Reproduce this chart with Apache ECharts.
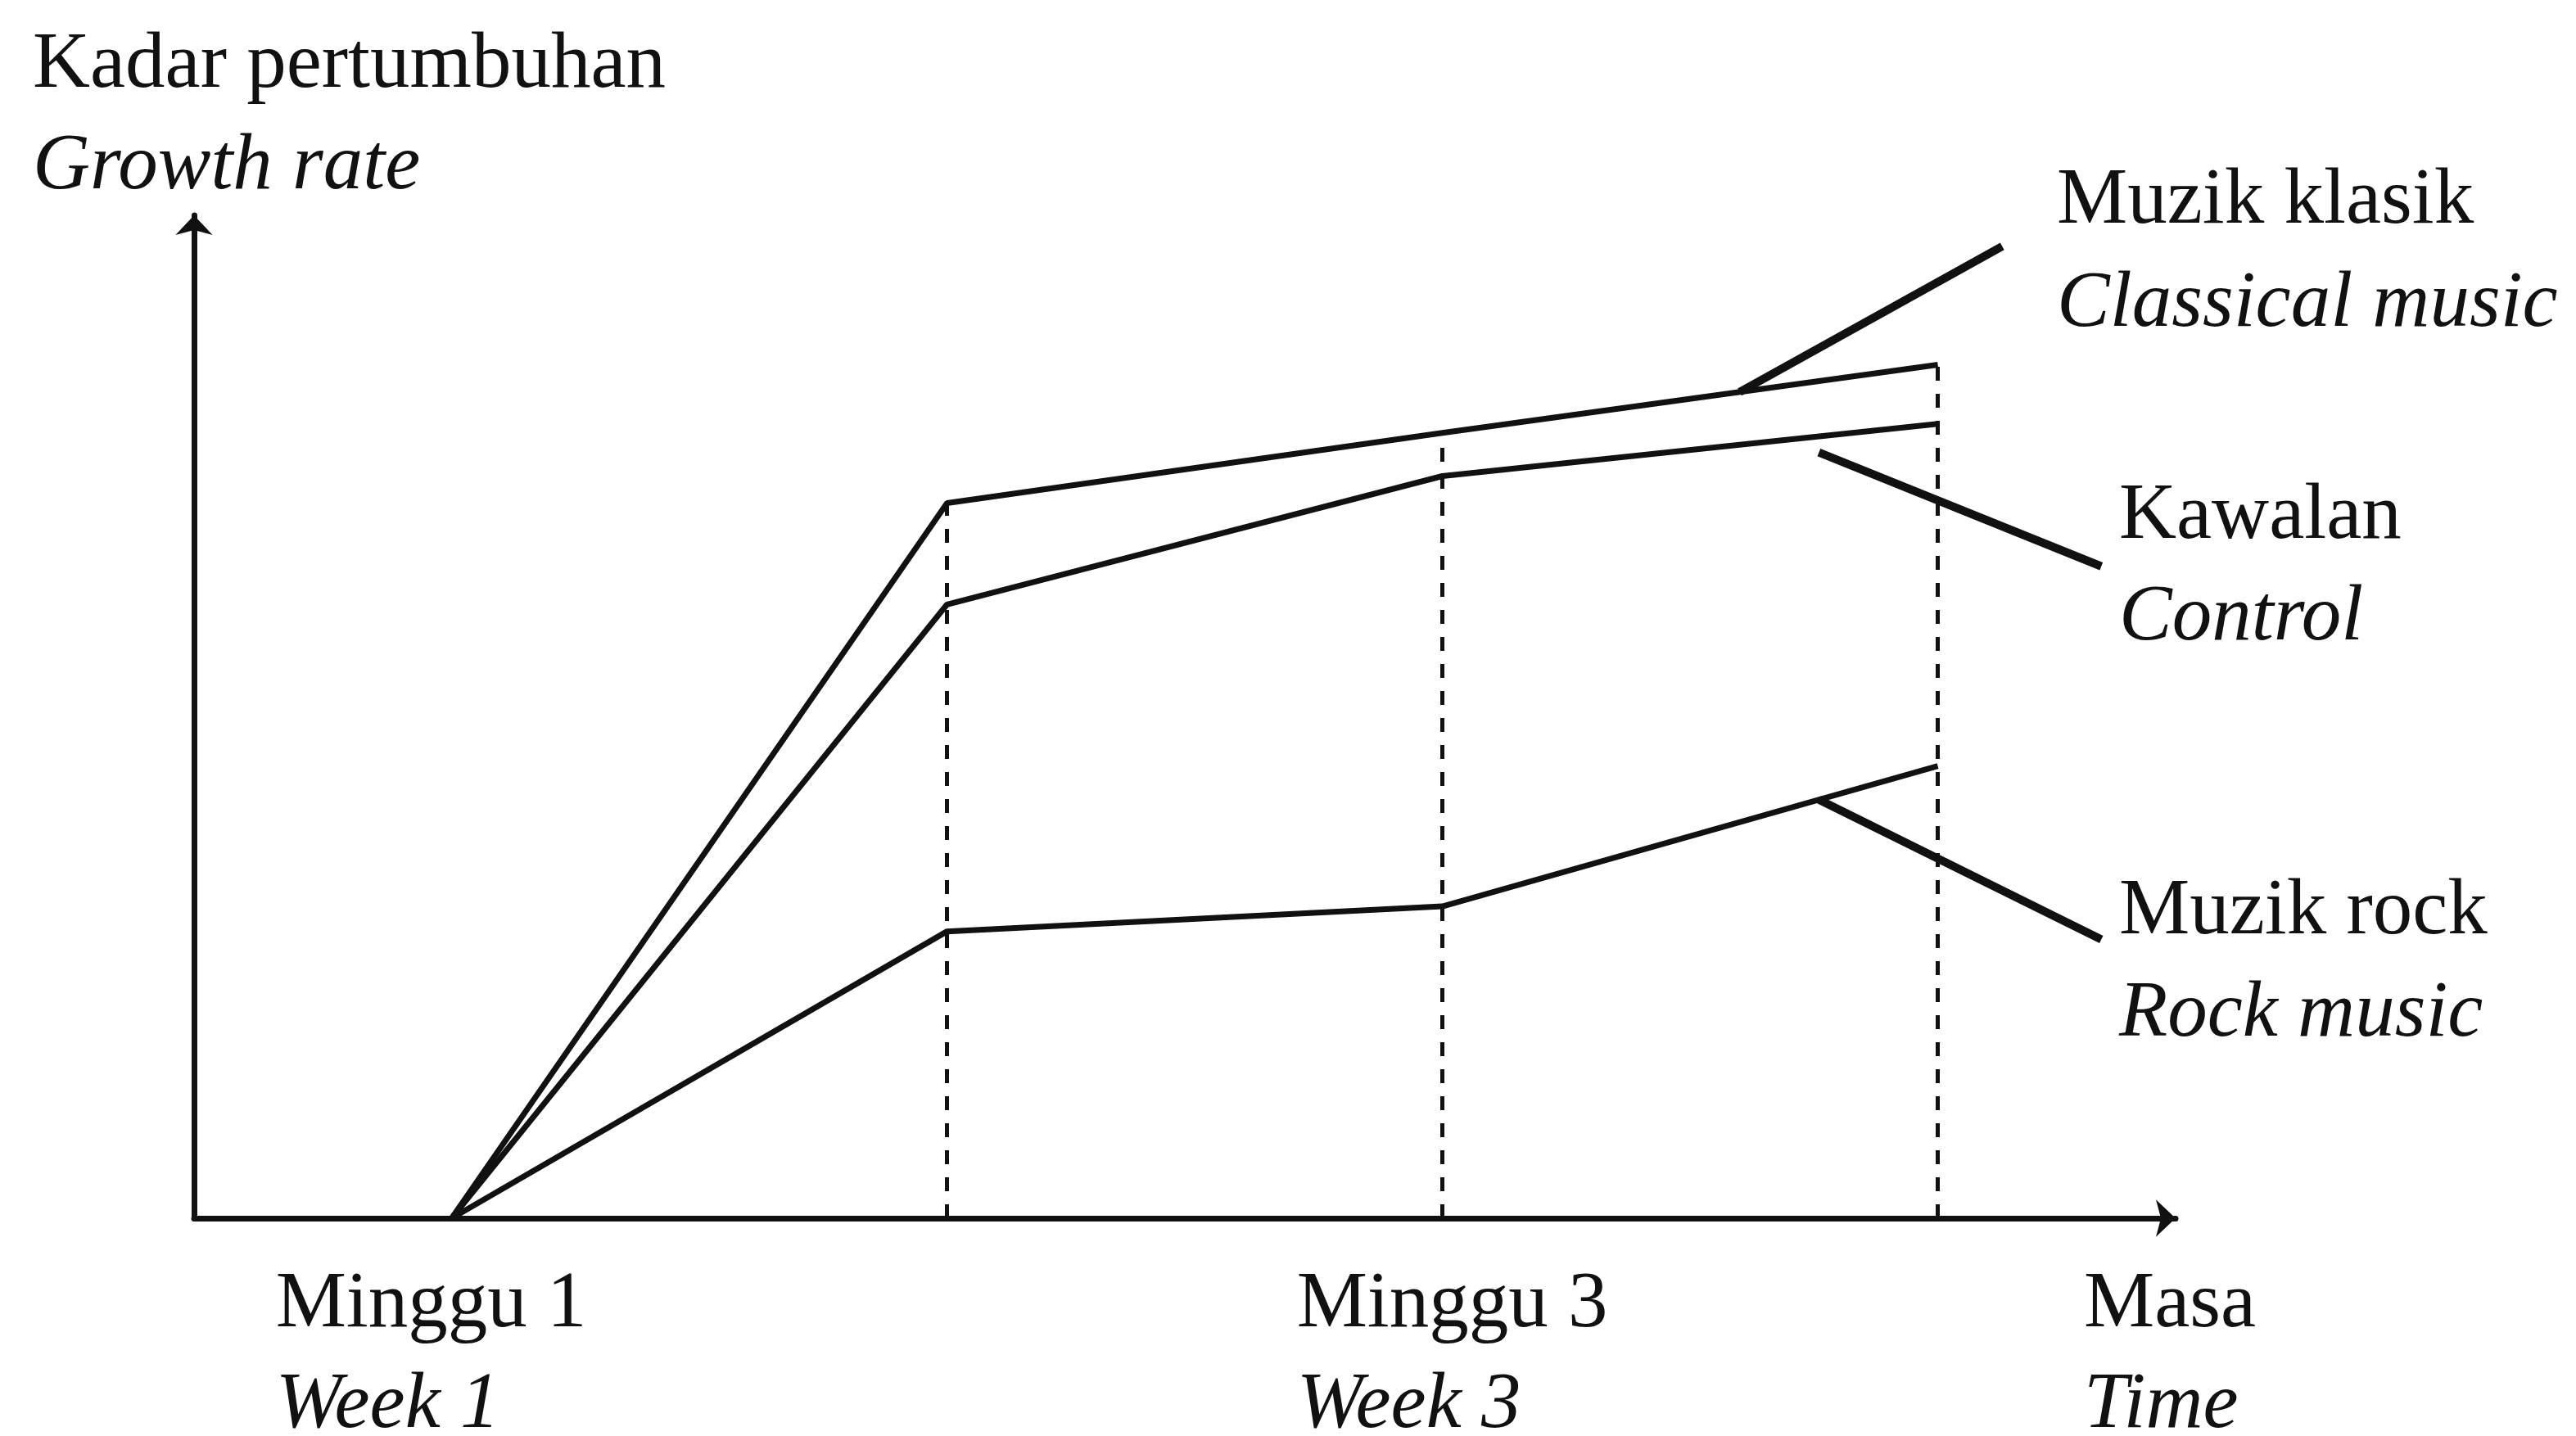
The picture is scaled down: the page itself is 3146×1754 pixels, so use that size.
<!DOCTYPE html>
<html>
<head>
<meta charset="utf-8">
<script src="https://cdn.jsdelivr.net/npm/echarts@6/dist/echarts.min.js"></script>
<style>
  html, body { margin: 0; padding: 0; background: #fff; }
  #chart { width: 3146px; height: 1754px; }
</style>
</head>
<body>
<div id="chart"></div>
<script>
// data (growth rate has no units, scaled 0-100)
const weeks = [1, 2, 3, 4];
const classical = [0, 71.3, 78.3, 85.1];
const control = [0, 61.2, 74.0, 79.2];
const rock = [0, 28.6, 31.1, 45.1];
const tickWeeks = [1, 3];
const tickLabels = { 1: ['Minggu 1', 'Week 1'], 3: ['Minggu 3', 'Week 3'] };

const FONT = '"Liberation Serif", "Times New Roman", serif';
const INK = '#111';

let myChart = echarts.init(document.getElementById('chart'));

function pairs(vals) {
    return weeks.map((w, i) => [w, vals[i]]);
}

// point lying on a series between two weeks
function pointOn(vals, x) {
    let i = Math.min(Math.floor(x) - 1, weeks.length - 2);
    let t = x - weeks[i];
    return [x, vals[i] + (vals[i + 1] - vals[i]) * t];
}

function leader(from, to) {
    return [{ coord: from }, { coord: to }];
}

let lineStyle = { color: INK, width: 7 };
let txt = { fontFamily: FONT, fontSize: 97, color: INK, lineHeight: 122, align: 'left' };
let txtI = Object.assign({}, txt, { fontStyle: 'italic' });

let option = {
    backgroundColor: '#fff',
    animation: false,
    title: {
        text: 'Kadar pertumbuhan',
        subtext: 'Growth rate',
        left: 40,
        top: 19,
        padding: 0,
        itemGap: 0,
        textStyle: { fontFamily: FONT, fontSize: 97, fontWeight: 'normal', color: INK, lineHeight: 124 },
        subtextStyle: { fontFamily: FONT, fontSize: 97, fontStyle: 'italic', color: INK, lineHeight: 122 }
    },
    grid: {
        left: 237,
        top: 263,
        width: 2420,
        height: 1225,
        outerBoundsMode: 'none'
    },
    xAxis: {
        type: 'value',
        min: 0.48,
        max: 4.48,
        name: '{a|Masa}\n{b|Time}',
        nameLocation: 'end',
        nameGap: -112,
        nameTextStyle: {
            align: 'left',
            verticalAlign: 'top',
            padding: [46, 0, 0, 0],
            rich: { a: txt, b: txtI }
        },
        axisLine: {
            symbol: ['none', 'arrow'],
            symbolSize: [34, 24],
            lineStyle: { color: INK, width: 7 }
        },
        axisTick: { show: false },
        splitLine: { show: false },
        axisLabel: {
            customValues: tickWeeks,
            margin: 46,
            // both lines start at the same left edge, as in the printed figure
            formatter: v => '{a' + v + '|' + tickLabels[v][0] + '}\n{b' + v + '|' + tickLabels[v][1] + '}',
            rich: {
                a1: Object.assign({}, txt, { padding: [0, 50, 0, 0] }),
                b1: Object.assign({}, txtI, { padding: [0, 50, 0, 0] }),
                a3: Object.assign({}, txt, { padding: [0, 0, 0, 24] }),
                b3: Object.assign({}, txtI, { padding: [0, 0, 0, 24] })
            }
        }
    },
    yAxis: {
        type: 'value',
        min: 0,
        max: 100,
        axisLine: {
            show: true,
            symbol: ['none', 'arrow'],
            symbolSize: [34, 24],
            lineStyle: { color: INK, width: 7 }
        },
        axisTick: { show: false },
        axisLabel: { show: false },
        splitLine: { show: false }
    },
    series: [{
        name: 'Muzik klasik',
        type: 'line',
        data: pairs(classical),
        showSymbol: false,
        lineStyle: lineStyle,
        markLine: {
            silent: true,
            symbol: 'none',
            label: { show: false },
            data: [
                // dotted guides from the x axis up to the top line
                ...weeks.slice(1).map((w, i) => [
                    { coord: [w, 0], lineStyle: { type: [17, 16], width: 5, color: INK } },
                    { coord: [w, classical[i + 1]] }
                ]),
                // leader lines to the labels
                leader(pointOn(classical, 3.6), [4.13, 96.9]),
                leader([3.76, pointOn(control, 3.76)[1] - 1.6], [4.33, 65.0]),
                leader(pointOn(rock, 3.76), [4.33, 27.8])
            ],
            lineStyle: { color: INK, width: 10, type: 'solid' }
        }
    }, {
        name: 'Kawalan',
        type: 'line',
        data: pairs(control),
        showSymbol: false,
        lineStyle: lineStyle
    }, {
        name: 'Muzik rock',
        type: 'line',
        data: pairs(rock),
        showSymbol: false,
        lineStyle: lineStyle
    }],
    graphic: [
        { type: 'text', left: 2512, top: 198, style: { text: 'Muzik klasik', font: '97px ' + FONT, fill: INK } },
        { type: 'text', left: 2512, top: 324, style: { text: 'Classical music', font: 'italic 97px ' + FONT, fill: INK } },
        { type: 'text', left: 2588, top: 583, style: { text: 'Kawalan', font: '97px ' + FONT, fill: INK } },
        { type: 'text', left: 2588, top: 707, style: { text: 'Control', font: 'italic 97px ' + FONT, fill: INK } },
        { type: 'text', left: 2588, top: 1066, style: { text: 'Muzik rock', font: '97px ' + FONT, fill: INK } },
        { type: 'text', left: 2588, top: 1191, style: { text: 'Rock music', font: 'italic 97px ' + FONT, fill: INK } }
    ]
};

myChart.setOption(option);
</script>
</body>
</html>
